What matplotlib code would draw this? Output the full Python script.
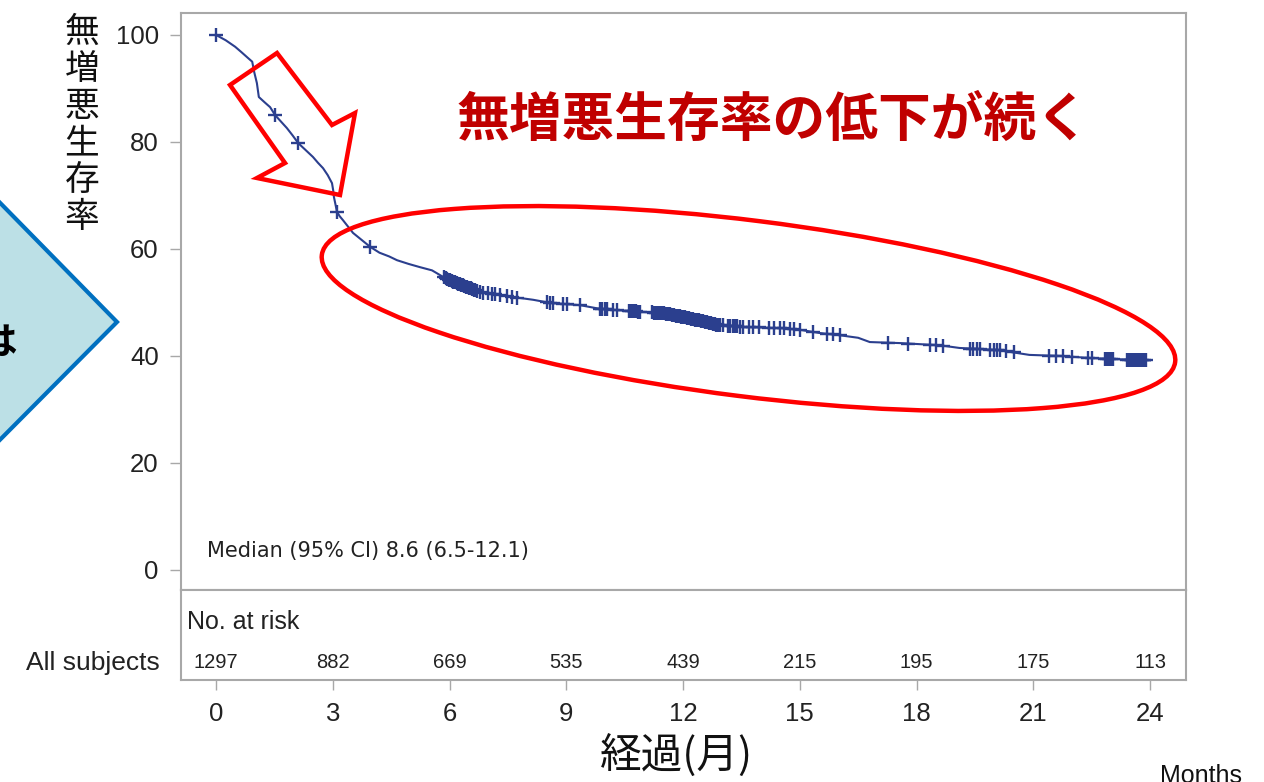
import numpy as np
import matplotlib.pyplot as plt
from matplotlib.patches import Ellipse, Polygon

plt.rcParams['font.family'] = ['Liberation Sans', 'DejaVu Sans']
JP = ['Noto Sans CJK JP', 'DejaVu Sans']

# Kaplan-Meier curve: month and survival (%) at each knot
months = [0.00, 0.25, 0.49, 0.65, 0.82, 0.93, 0.98, 1.05, 1.10, 1.25, 1.39, 1.52,
          1.67, 1.82, 1.97, 2.11, 2.30, 2.49, 2.62, 2.75, 2.87, 2.98, 3.01, 3.03,
          3.07, 3.11, 3.18, 3.26, 3.39, 3.52, 3.74, 3.96, 4.20, 4.45, 4.65, 4.95,
          5.24, 5.55, 5.83, 6.05, 6.30, 6.55, 6.86, 7.30, 7.75, 8.15, 8.60, 9.35,
          9.87, 10.25, 10.60, 11.05, 11.50, 11.85, 12.20, 12.55, 12.90, 13.60, 14.50,
          15.00, 15.50, 16.00, 16.50, 16.80, 17.60, 18.60, 19.10, 20.10, 20.90,
          21.70, 22.50, 23.50, 24.00]
pfs = [100.0, 99.0, 97.8, 96.8, 95.7, 95.0, 93.1, 91.0, 88.4, 87.4, 86.5, 85.0,
       83.8, 82.6, 81.2, 79.8, 78.5, 77.2, 76.1, 75.1, 73.8, 72.3, 71.0, 69.7,
       68.3, 66.9, 66.1, 65.4, 64.2, 63.0, 61.7, 60.4, 59.3, 58.6, 57.9, 57.2,
       56.6, 56.0, 54.8, 54.0, 53.3, 52.6, 51.8, 51.4, 50.9, 50.5, 49.9, 49.5,
       48.8, 48.6, 48.4, 48.2, 48.0, 47.5, 47.0, 46.4, 45.8, 45.4, 45.2,
       44.9, 44.3, 43.9, 43.4, 42.6, 42.4, 42.0, 41.5, 41.1, 40.2,
       40.0, 39.6, 39.3, 39.2]

# censored observations (months)
censored = [0.00, 1.52, 2.11, 3.11, 3.96,
            5.86, 5.90, 5.94, 5.98, 6.02, 6.06, 6.10, 6.14, 6.18, 6.22, 6.26, 6.30,
            6.34, 6.38, 6.42, 6.46, 6.50, 6.54, 6.58, 6.62, 6.66, 6.70, 6.78, 6.86,
            6.99, 7.08, 7.16, 7.30, 7.48, 7.60, 7.73, 8.50, 8.58, 8.66, 8.92, 9.02,
            9.35, 9.87, 9.93, 9.99, 10.05, 10.20, 10.30,
            10.60, 10.65, 10.70, 10.75, 10.80, 10.85, 10.90, 11.20, 11.25, 11.30,
            11.35, 11.40, 11.46, 11.51, 11.56, 11.61, 11.66, 11.71, 11.76, 11.81,
            11.86, 11.91, 11.96, 12.01, 12.06, 12.11, 12.16, 12.21, 12.26, 12.31,
            12.36, 12.41, 12.46, 12.51, 12.56, 12.61, 12.66, 12.71, 12.76, 12.81,
            12.86, 12.91, 12.96, 13.03, 13.16, 13.22, 13.28, 13.34, 13.40, 13.46,
            13.54, 13.70, 13.80, 13.95, 14.20, 14.35, 14.50, 14.60, 14.75, 14.85,
            15.00, 15.34, 15.70, 15.85, 16.03, 17.27, 17.78, 18.35, 18.50, 18.68,
            19.37, 19.45, 19.55, 19.63, 19.90, 19.98, 20.06, 20.15, 20.30, 20.50,
            21.40, 21.58, 21.76, 22.00, 22.40, 22.50, 22.85, 22.90, 22.95, 23.00,
            23.05, 23.40, 23.45, 23.50, 23.55, 23.60, 23.65, 23.70, 23.75, 23.80,
            23.85, 23.90]

tick_months = [0, 3, 6, 9, 12, 15, 18, 21, 24]
at_risk = [1297, 882, 669, 535, 439, 215, 195, 175, 113]

navy = '#2B3F8E'
frame_gray = '#A8A8A8'

W, H = 1264, 782
fig = plt.figure(figsize=(W / 100, H / 100), dpi=100)


def box(l, t, r, b):
    return [l / W, 1 - b / H, (r - l) / W, (b - t) / H]


ax = fig.add_axes(box(181, 13, 1186, 590))
tab = fig.add_axes(box(181, 590, 1186, 680))
xlim = (-0.9, 24.925)

# --- survival curve ---
ax.plot(months, pfs, color=navy, lw=1.5, zorder=3)
ax.plot(censored, np.interp(censored, months, pfs), ls='none', marker='+',
        ms=10, mew=1.7, color=navy, zorder=3)
ax.set_xlim(*xlim)
ax.set_ylim(-3.74, 104.1)
ax.set_xticks([])
ax.set_yticks([0, 20, 40, 60, 80, 100])
ax.tick_params(axis='y', length=8, width=1, color=frame_gray, labelsize=18.5,
               labelcolor='#222222', pad=8)
ax.text(-0.23, 3.55, 'Median (95% CI) 8.6 (6.5-12.1)', fontsize=15,
        family='DejaVu Sans', color='#222222', va='center', ha='left')

# --- number at risk table ---
tab.set_xlim(*xlim)
tab.set_ylim(0, 1)
tab.set_yticks([])
tab.set_xticks(tick_months)
tab.tick_params(axis='x', length=7, width=1, color=frame_gray, labelsize=18.5,
                labelcolor='#222222', pad=9)
tab.text(0.006, 0.644, 'No. at risk', transform=tab.transAxes, fontsize=18,
         va='center', ha='left', color='#222222')
for t, n in zip(tick_months, at_risk):
    tab.text(t, 0.19, str(n), ha='center', va='center', fontsize=14.5,
             color='#222222')

for a in (ax, tab):
    for s in a.spines.values():
        s.set_color(frame_gray)
        s.set_linewidth(1.5)

# --- annotation layer in pixel coordinates ---
ov = fig.add_axes([0, 0, 1, 1], zorder=10)
ov.set_xlim(0, W)
ov.set_ylim(H, 0)
ov.axis('off')
ov.patch.set_alpha(0)

ov.add_patch(Polygon([(-40, 162), (117, 322), (-40, 480)], closed=True,
                     facecolor='#BCE0E6', edgecolor='#0070C0', lw=3,
                     joinstyle='miter'))
ov.text(17, 342, 'は', ha='right', va='center', fontsize=27, weight='bold',
        family=JP, color='black')

for i, ch in enumerate('無増悪生存率'):
    ov.text(82, 32 + 37.2 * i, ch, ha='center', va='center', fontsize=25,
            family=JP, color='#111111')

ov.text(160, 663, 'All subjects', ha='right', va='center', fontsize=19,
        color='#222222')
ov.text(677, 755, '経過(月)', ha='center', va='center', fontsize=30,
        family=JP, color='#111111')
ov.text(1160, 764, 'Months', ha='left', va='top', fontsize=18, color='#111111')

ov.text(773, 120, '無増悪生存率の低下が続く', ha='center', va='center',
        fontsize=38, fontweight='bold', color='#C00000', family=JP)

arrow = [(230, 85), (277, 53), (332, 125), (355, 113), (340, 195),
         (257, 178), (285, 163)]
ov.add_patch(Polygon(arrow, closed=True, fill=False, edgecolor='#FF0000',
                     lw=3.2, joinstyle='miter'))
ov.add_patch(Ellipse((748.5, 308.5), 860, 176, angle=7.15, fill=False,
                     edgecolor='#FF0000', lw=3.2))

fig.savefig('out.png', dpi=100, facecolor='white')
